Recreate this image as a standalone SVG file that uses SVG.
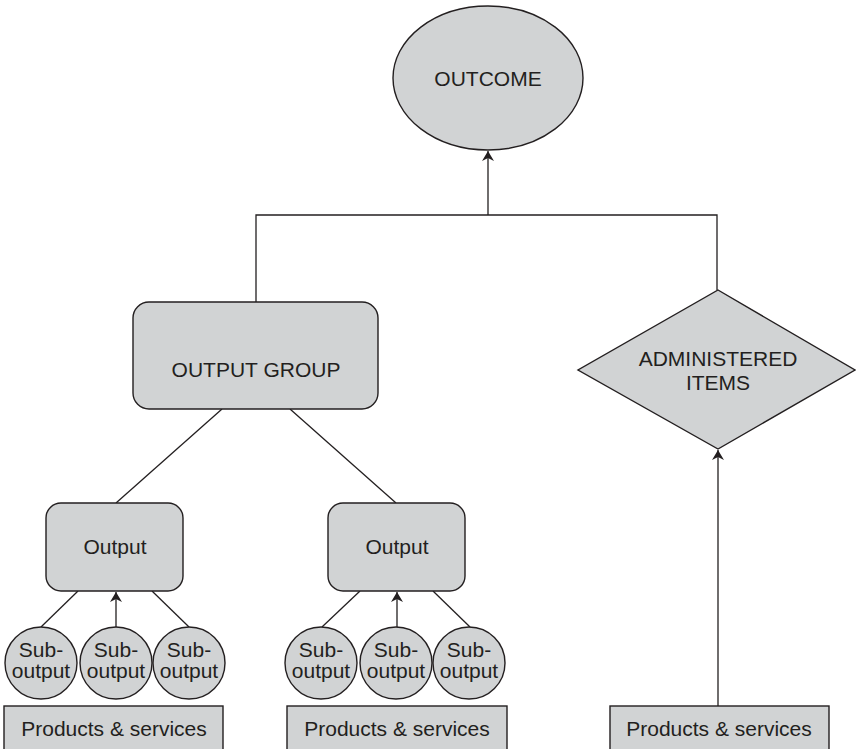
<svg xmlns="http://www.w3.org/2000/svg" width="856" height="749" viewBox="0 0 856 749">
  <style>
    .shape { fill: #d1d3d4; stroke: #231f20; stroke-width: 1.4; }
    .link { fill: none; stroke: #231f20; stroke-width: 1.3; }
    .label { font-family: "Liberation Sans", Arial, sans-serif; font-size: 21px; fill: #231f20; text-anchor: middle; }
  </style>
  <defs>
    <marker id="arrow" viewBox="0 0 10 12" refX="10" refY="6" markerWidth="10" markerHeight="12" markerUnits="userSpaceOnUse" orient="auto">
      <path d="M0,0 L10,6 L0,12 L3,6 Z" fill="#231f20"/>
    </marker>
  </defs>
  <rect width="856" height="749" fill="#ffffff"/>

  <!-- connectors -->
  <g id="connectors">
    <path class="link" d="M256,302 V215 H717 V290"/>
    <line class="link" x1="488" y1="215" x2="488" y2="151" marker-end="url(#arrow)"/>
    <line class="link" x1="222" y1="409" x2="116" y2="503"/>
    <line class="link" x1="290" y1="409" x2="396" y2="503"/>
    <line class="link" x1="78" y1="591" x2="41" y2="627"/>
    <line class="link" x1="116" y1="627" x2="116" y2="592" marker-end="url(#arrow)"/>
    <line class="link" x1="152" y1="591" x2="189" y2="627"/>
    <line class="link" x1="360" y1="591" x2="322" y2="627"/>
    <line class="link" x1="397" y1="627" x2="397" y2="592" marker-end="url(#arrow)"/>
    <line class="link" x1="433" y1="591" x2="470" y2="627"/>
    <line class="link" x1="718" y1="706" x2="718" y2="450" marker-end="url(#arrow)"/>
  </g>

  <g id="outcome">
    <ellipse class="shape" cx="488" cy="78" rx="95" ry="72"/>
    <text class="label" x="488" y="86">OUTCOME</text>
  </g>

  <g id="output-group">
    <rect class="shape" x="133" y="302" width="245" height="107" rx="16"/>
    <text class="label" x="256" y="377">OUTPUT GROUP</text>
  </g>

  <g id="administered-items">
    <polygon class="shape" points="718,290 855,370 718,449 578,370"/>
    <text class="label" x="718" y="366">ADMINISTERED</text>
    <text class="label" x="718" y="390">ITEMS</text>
  </g>

  <g id="output-left">
    <rect class="shape" x="46" y="503" width="137" height="88" rx="15"/>
    <text class="label" x="115" y="554">Output</text>
  </g>

  <g id="output-right">
    <rect class="shape" x="328" y="503" width="137" height="88" rx="15"/>
    <text class="label" x="397" y="554">Output</text>
  </g>

  <g id="sub-output-1">
    <circle class="shape" cx="41" cy="663" r="36"/>
    <text class="label" x="41" y="657">Sub-</text>
    <text class="label" x="41" y="678">output</text>
  </g>
  <g id="sub-output-2">
    <circle class="shape" cx="116" cy="663" r="36"/>
    <text class="label" x="116" y="657">Sub-</text>
    <text class="label" x="116" y="678">output</text>
  </g>
  <g id="sub-output-3">
    <circle class="shape" cx="189" cy="663" r="36"/>
    <text class="label" x="189" y="657">Sub-</text>
    <text class="label" x="189" y="678">output</text>
  </g>
  <g id="sub-output-4">
    <circle class="shape" cx="321" cy="663" r="36"/>
    <text class="label" x="321" y="657">Sub-</text>
    <text class="label" x="321" y="678">output</text>
  </g>
  <g id="sub-output-5">
    <circle class="shape" cx="396" cy="663" r="36"/>
    <text class="label" x="396" y="657">Sub-</text>
    <text class="label" x="396" y="678">output</text>
  </g>
  <g id="sub-output-6">
    <circle class="shape" cx="469" cy="663" r="36"/>
    <text class="label" x="469" y="657">Sub-</text>
    <text class="label" x="469" y="678">output</text>
  </g>

  <g id="products-1">
    <rect class="shape" x="4" y="706" width="219" height="60"/>
    <text class="label" x="114" y="736">Products &amp; services</text>
  </g>
  <g id="products-2">
    <rect class="shape" x="287" y="706" width="220" height="60"/>
    <text class="label" x="397" y="736">Products &amp; services</text>
  </g>
  <g id="products-3">
    <rect class="shape" x="610" y="706" width="219" height="60"/>
    <text class="label" x="719" y="736">Products &amp; services</text>
  </g>
</svg>
